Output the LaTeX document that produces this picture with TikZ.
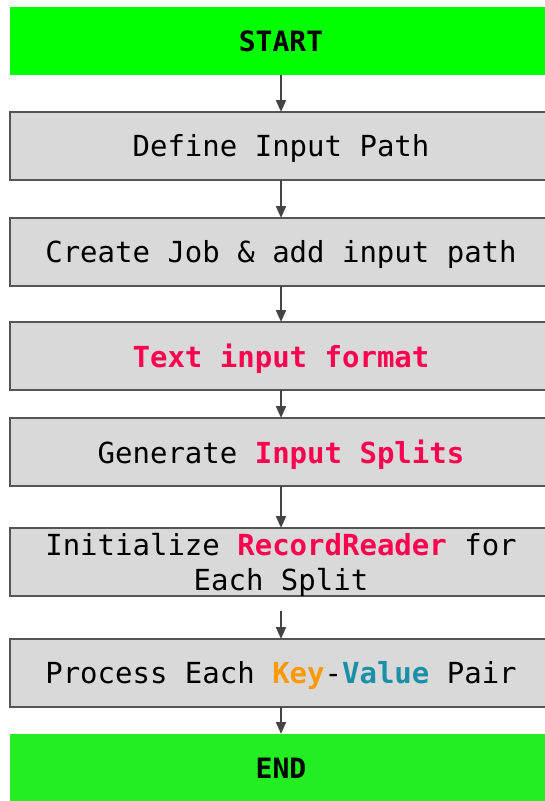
\documentclass[tikz,border=0pt]{standalone}
\usepackage{fontspec}
\setmonofont{DejaVu Sans Mono}
\usetikzlibrary{arrows.meta}

\definecolor{startgreen}{HTML}{00FF00}
\definecolor{endgreen}{HTML}{22EE22}
\definecolor{stepfill}{HTML}{D9D9D9}
\definecolor{stepborder}{HTML}{555555}
\definecolor{linkgray}{HTML}{444444}
\definecolor{hired}{HTML}{FF0050}
\definecolor{hiorange}{HTML}{FF9900}
\definecolor{hiteal}{HTML}{1A8FA8}

\newcommand{\hl}[2]{\textcolor{#1}{\textbf{#2}}}

\tikzset{
  stepbox/.style={rectangle, draw=stepborder, line width=2pt, fill=stepfill,
    minimum width=542pt, minimum height=68pt, inner sep=0pt, outer sep=0pt},
  steptext/.style={align=center, yshift=-2.5pt, inner sep=0pt,
    font=\ttfamily\fontsize{29}{35}\selectfont},
  terminal/.style={rectangle, draw=none, minimum width=542pt, minimum height=68pt,
    inner sep=0pt, outer sep=0pt, font=\ttfamily\bfseries\fontsize{28}{32}\selectfont},
  link/.style={draw=linkgray, line width=2pt, -{Triangle[width=10pt,length=12pt]}}
}

\begin{document}
\begin{tikzpicture}[x=1pt, y=-1pt]
  \useasboundingbox (0,0) rectangle (545,801);
  \clip (0,0) rectangle (545,801);

  \node[terminal, fill=startgreen] (start) at (281,41) {START};
  \node[stepbox, label={[steptext]center:Define Input Path}] (define) at (281,146) {};
  \node[stepbox, label={[steptext]center:Create Job \& add input path}] (create) at (281,252) {};
  \node[stepbox, label={[steptext]center:\hl{hired}{Text input format}}] (format) at (281,356) {};
  \node[stepbox, label={[steptext]center:Generate \hl{hired}{Input Splits}}] (splits) at (281,452) {};
  \node[stepbox, label={[steptext]center:Initialize \hl{hired}{RecordReader} for\\Each Split}] (reader) at (281,562) {};
  \node[stepbox, label={[steptext]center:Process Each \hl{hiorange}{Key}-\hl{hiteal}{Value} Pair}] (pairs) at (281,673) {};
  \node[terminal, fill=endgreen] (end) at (281,768) {END};

  \coordinate (gap) at (281,611);

  \draw[link] (start) -- (define);
  \draw[link] (define) -- (create);
  \draw[link] (create) -- (format);
  \draw[link] (format) -- (splits);
  \draw[link] (splits) -- (reader);
  \draw[link] (gap) -- (pairs);
  \draw[link] (pairs) -- (end);
\end{tikzpicture}
\end{document}
